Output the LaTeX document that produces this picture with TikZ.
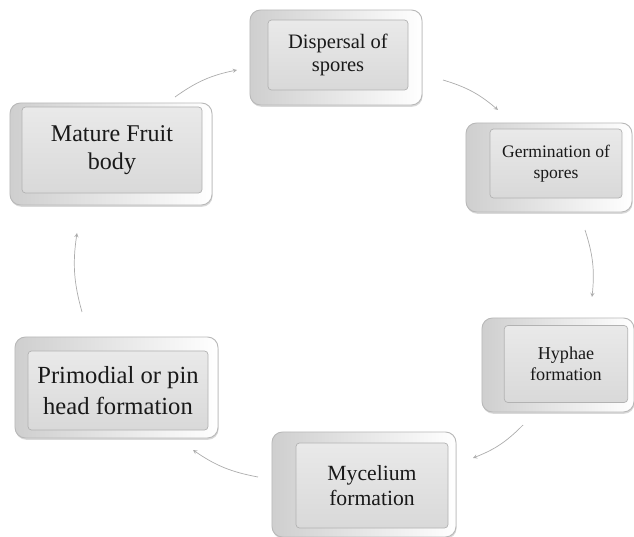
\documentclass[tikz,border=0pt]{standalone}
\usepackage{fontspec}
\newfontfamily\boxfont{Liberation Serif}
\usepackage{tikz}
\usetikzlibrary{calc}
\usetikzlibrary{shadows}

\begin{document}
\begin{tikzpicture}[x=0.03cm, y=-0.03cm,
    frame/.style={rounded corners=9pt, left color=gray!38, right color=white, draw=gray!55, line width=0.8pt, inner sep=0pt, drop shadow={opacity=0.3, shadow xshift=0.5pt, shadow yshift=-1.5pt}},
    face/.style={rounded corners=3pt, top color=gray!17, bottom color=gray!30, draw=gray!60, line width=0.6pt, inner sep=0pt, align=center, text=black!90},
    cyc/.style={->, >=stealth, draw=gray!65, line width=0.6pt, bend left=12}]
         \useasboundingbox (0,0) rectangle (634,537);
         % outer bevels
         \node[frame, minimum width=5.16cm, minimum height=2.85cm] (dispersal-frame) at (336,57.5) {};
         \node[frame, minimum width=4.98cm, minimum height=2.67cm] (germination-frame) at (549,167.5) {};
         \node[frame, minimum width=4.56cm, minimum height=2.82cm] (hyphae-frame) at (558,365) {};
         \node[frame, minimum width=5.52cm, minimum height=3.15cm] (mycelium-frame) at (364,484.5) {};
         \node[frame, minimum width=6.09cm, minimum height=3.03cm] (primordial-frame) at (116.5,387.5) {};
         \node[frame, minimum width=6.06cm, minimum height=3.06cm] (mature-frame) at (111,154) {};
         % faces with the texts
         \node[face, minimum width=4.2cm, minimum height=2.1cm, font=\boxfont\fontsize{17.5}{20}\selectfont] (dispersal) at (338,55) {Dispersal of\\spores};
         \node[face, minimum width=3.96cm, minimum height=2.07cm, font=\boxfont\fontsize{15}{17.5}\selectfont] (germination) at (556,163.5) {Germination of\\spores};
         \node[face, minimum width=3.7cm, minimum height=2.31cm, font=\boxfont\fontsize{15.5}{18}\selectfont] (hyphae) at (566,364) {Hyphae\\formation};
         \node[face, minimum width=4.56cm, minimum height=2.55cm, font=\boxfont\fontsize{18.5}{21}\selectfont] (mycelium) at (372,485.5) {Mycelium\\formation};
         \node[face, minimum width=5.4cm, minimum height=2.37cm, font=\boxfont\fontsize{21}{26}\selectfont] (primordial) at (118,390.5) {Primodial or pin\\head formation};
         \node[face, minimum width=5.4cm, minimum height=2.58cm, font=\boxfont\fontsize{20.5}{24}\selectfont] (mature) at (112,150) {Mature Fruit\\body};
         % arrow ends
         \coordinate (a1) at (175,97);  \coordinate (b1) at (237,70);
         \coordinate (a2) at (443,80);  \coordinate (b2) at (498,110);
         \coordinate (a3) at (585,230); \coordinate (b3) at (592,297);
         \coordinate (a4) at (523,425); \coordinate (b4) at (473,458);
         \coordinate (a5) at (258,477); \coordinate (b5) at (193,450);
         \coordinate (a6) at (82,312);  \coordinate (b6) at (77,233);
         \foreach \s/\e in {a1/b1, a2/b2, a3/b3, a4/b4, a5/b5, a6/b6}
            \draw[cyc] (\s) to (\e);
    \end{tikzpicture}
\end{document}
